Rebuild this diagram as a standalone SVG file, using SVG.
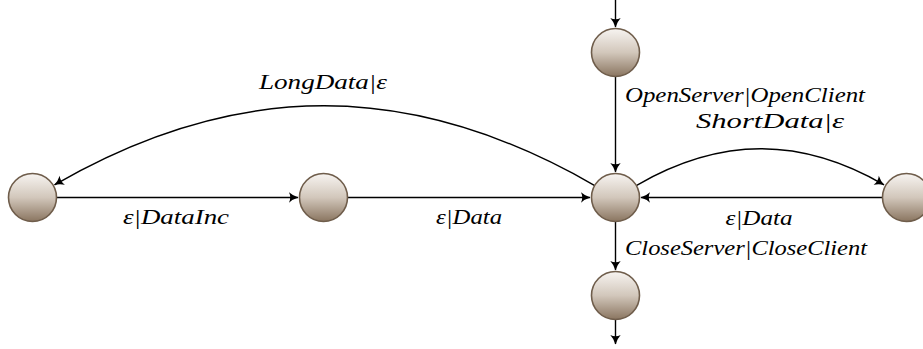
<svg xmlns="http://www.w3.org/2000/svg" width="923" height="349" viewBox="0 0 923 349">
<style>
.node{fill:url(#g);stroke:#6f5d4b;stroke-width:1.6}
.edge{fill:none;stroke:#000;stroke-width:1.4;marker-end:url(#arr)}
.lbl{font-family:"Liberation Serif","DejaVu Serif",serif;font-style:italic;font-size:20.5px;fill:#000;text-anchor:middle}
</style>
<defs>
<linearGradient id="g" x1="0" y1="0" x2="0" y2="1">
<stop offset="0" stop-color="#f7f4f1"/>
<stop offset="0.5" stop-color="#d2c7bb"/>
<stop offset="1" stop-color="#8a7560"/>
</linearGradient>
<marker id="arr" markerUnits="userSpaceOnUse" markerWidth="14" markerHeight="14" viewBox="-11 -7 14 14" refX="0" refY="0" orient="auto">
<path d="M0.5,0 Q-5,-1.5 -9,-5.2 Q-6.5,0 -9,5.2 Q-5,1.5 0.5,0 Z" fill="#000"/>
</marker>
</defs>
<g id="edges">
<path class="edge" d="M615.5,0 L615.5,27"/>
<path class="edge" d="M615.5,77 L615.5,172"/>
<path class="edge" d="M615.5,222 L615.5,270"/>
<path class="edge" d="M615.5,320 L615.5,344"/>
<path class="edge" d="M57,197.5 L298,197.5"/>
<path class="edge" d="M348,197.5 L590,197.5"/>
<path class="edge" d="M882,197.5 L641,197.5"/>
<path class="edge" d="M594.3,185.3 C411,79.4 237,79.4 54.5,184.8"/>
<path class="edge" d="M636.7,185.3 C720.7,136.7 800.8,136.7 884,184.8"/>
</g>
<g id="n-top"><circle class="node" cx="615.5" cy="52.5" r="24"/></g>
<g id="n-left"><circle class="node" cx="32.5" cy="197.5" r="24"/></g>
<g id="n-mid"><circle class="node" cx="323.5" cy="197.5" r="24"/></g>
<g id="n-center"><circle class="node" cx="615.5" cy="197.5" r="24"/></g>
<g id="n-right"><circle class="node" cx="906.5" cy="197.5" r="24"/></g>
<g id="n-bottom"><circle class="node" cx="615.5" cy="295.5" r="24"/></g>
<g id="labels">
<text class="lbl" x="323" y="89" textLength="128" lengthAdjust="spacingAndGlyphs">LongData|ε</text>
<text class="lbl" x="745" y="102" textLength="240" lengthAdjust="spacingAndGlyphs">OpenServer|OpenClient</text>
<text class="lbl" x="770" y="128" textLength="148" lengthAdjust="spacingAndGlyphs">ShortData|ε</text>
<text class="lbl" x="176" y="224" textLength="106" lengthAdjust="spacingAndGlyphs">ε|DataInc</text>
<text class="lbl" x="469" y="224" textLength="66" lengthAdjust="spacingAndGlyphs">ε|Data</text>
<text class="lbl" x="759" y="225" textLength="67" lengthAdjust="spacingAndGlyphs">ε|Data</text>
<text class="lbl" x="746" y="255" textLength="242" lengthAdjust="spacingAndGlyphs">CloseServer|CloseClient</text>
</g>
</svg>
